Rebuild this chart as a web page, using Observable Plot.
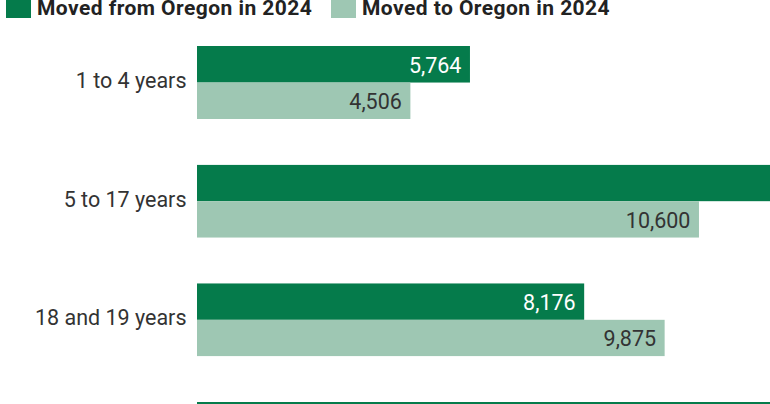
<!DOCTYPE html>
<html>
<head>
<meta charset="utf-8">
<script src="https://cdn.jsdelivr.net/npm/d3@7"></script>
<script src="https://cdn.jsdelivr.net/npm/@observablehq/plot@0.6"></script>
<style>
  html, body { margin: 0; padding: 0; background: #fff; overflow: hidden; width: 770px; height: 404px; }
  #legend { position: relative; height: 22px; font-family: Roboto, sans-serif; font-weight: 700; font-size: 21px; letter-spacing: 0.45px; color: #222; }
  #legend .item { position: absolute; top: 0; display: flex; align-items: flex-start; }
  #legend .sw { width: 25px; height: 18px; margin-right: 6px; }
  #legend .lab { line-height: 21px; margin-top: -2px; white-space: nowrap; }
</style>
</head>
<body>
<div id="legend"></div>
<div id="chart"></div>
<script>
const ageGroups = ["1 to 4 years", "5 to 17 years", "18 and 19 years", "20 to 24 years"];
const seriesNames = ["Moved from Oregon in 2024", "Moved to Oregon in 2024"];
const movedFrom = [5764, 14210, 8176, 16950];
const movedTo = [4506, 10600, 9875, 11300];
const colors = ["#057b4b", "#9ec7b3"];
const labelColors = ["#ffffff", "#333333"];

const data = [];
ageGroups.forEach((age, i) => {
  data.push({age, series: seriesNames[0], value: movedFrom[i]});
  data.push({age, series: seriesNames[1], value: movedTo[i]});
});

// legend
const legend = document.getElementById("legend");
const lefts = [6, 331];
seriesNames.forEach((s, i) => {
  const item = document.createElement("div");
  item.className = "item";
  item.style.left = lefts[i] + "px";
  item.innerHTML = `<div class="sw" style="background:${colors[i]}"></div><div class="lab">${s}</div>`;
  legend.appendChild(item);
});

const fmt = d3.format(",");
const chart = Plot.plot({
  width: 770,
  height: 453,
  marginLeft: 197,
  marginRight: 0,
  marginTop: 24,
  marginBottom: 0,
  style: {fontFamily: "Roboto, sans-serif", fontSize: "21.5px", color: "#333", background: "transparent"},
  x: {domain: [0, 12100], axis: null},
  y: {domain: seriesNames, padding: 0, axis: null, round: false},
  fy: {domain: ageGroups, paddingInner: 0.384, paddingOuter: 0, align: 0, round: false, label: null, tickSize: 0, tickPadding: 11},
  color: {domain: seriesNames, range: colors},
  marks: [
    Plot.barX(data, {x: "value", y: "series", fy: "age", fill: "series", clip: true}),
    Plot.text(data, {
      x: "value", y: "series", fy: "age",
      text: d => fmt(d.value),
      textAnchor: "end", dx: -9, dy: 1,
      fill: d => labelColors[seriesNames.indexOf(d.series)],
      fontSize: 21.5, clip: true
    })
  ]
});
chart.querySelectorAll('[aria-label="fy-axis tick label"] text').forEach(t => {
  t.setAttribute("fill", "#333");
  t.setAttribute("dy", "-2px");
});
document.getElementById("chart").appendChild(chart);
</script>
</body>
</html>
